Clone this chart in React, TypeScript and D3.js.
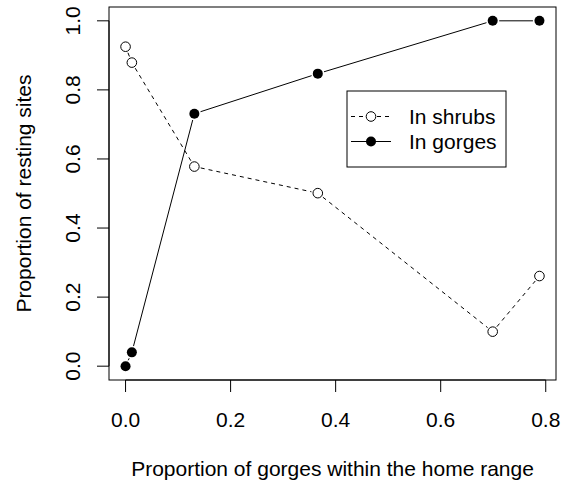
import React from "react";
import * as d3 from "d3";

const xVals = [0, 0.012, 0.131, 0.366, 0.699, 0.788];
const shrubs = [0.925, 0.879, 0.578, 0.501, 0.1, 0.261];
const gorges = [0, 0.04, 0.731, 0.847, 1, 1];
const xTicks = [0, 0.2, 0.4, 0.6, 0.8];
const yTicks = [0, 0.2, 0.4, 0.6, 0.8, 1.0];
const legendLabels = ["In shrubs", "In gorges"];

const W = 561, H = 483;
const L = 109, R = 556, T = 7, B = 380;
const FONT = "Liberation Sans, Arial, Helvetica, sans-serif";
const FS = 21;

function gapSegments(pts: [number, number][], gap: number) {
  const segs: [number, number, number, number][] = [];
  for (let i = 0; i < pts.length - 1; i++) {
    const [x1, y1] = pts[i];
    const [x2, y2] = pts[i + 1];
    const dx = x2 - x1, dy = y2 - y1;
    const len = Math.hypot(dx, dy);
    if (len <= 2 * gap) continue;
    const ux = dx / len, uy = dy / len;
    segs.push([x1 + ux * gap, y1 + uy * gap, x2 - ux * gap, y2 - uy * gap]);
  }
  return segs;
}

export default function App() {
  const xmin = 0, xmax = d3.max(xVals) as number;
  const xpad = (xmax - xmin) * 0.04;
  const x = d3.scaleLinear().domain([xmin - xpad, xmax + xpad]).range([L, R]);
  const y = d3.scaleLinear().domain([-0.04, 1.04]).range([B, T]);

  const sPts = xVals.map((v, i) => [x(v), y(shrubs[i])] as [number, number]);
  const gPts = xVals.map((v, i) => [x(v), y(gorges[i])] as [number, number]);
  const sSegs = gapSegments(sPts, 6.5);
  const gSegs = gapSegments(gPts, 6.5);

  const lgL = 347, lgT = 91, lgR = 506, lgB = 167;
  const rowY = [116.5, 141.5];

  return (
    <svg width={W} height={H} style={{ position: "absolute", left: 0, top: 0, background: "#fff" }} fontFamily={FONT}>
      <rect x={0} y={0} width={W} height={H} fill="#fff" />
      {/* box */}
      <rect x={L} y={T} width={R - L} height={B - T} fill="none" stroke="#000" strokeWidth={1} />
      {/* x axis */}
      <line x1={x(xTicks[0])} x2={x(xTicks[xTicks.length - 1])} y1={B} y2={B} stroke="#000" />
      {xTicks.map((t) => (
        <g key={"xt" + t}>
          <line x1={x(t)} x2={x(t)} y1={B} y2={B + 12} stroke="#000" />
          <text x={x(t)} y={426.5} textAnchor="middle" fontSize={FS}>{t.toFixed(1)}</text>
        </g>
      ))}
      {/* y axis */}
      <line x1={L} x2={L} y1={y(yTicks[0])} y2={y(yTicks[yTicks.length - 1])} stroke="#000" />
      {yTicks.map((t) => (
        <g key={"yt" + t}>
          <line x1={L - 12} x2={L} y1={y(t)} y2={y(t)} stroke="#000" />
          <text transform={`translate(${80},${y(t)}) rotate(-90)`} textAnchor="middle" fontSize={FS}>{t.toFixed(1)}</text>
        </g>
      ))}
      <text x={(L + R) / 2} y={476} textAnchor="middle" fontSize={FS}>Proportion of gorges within the home range</text>
      <text transform={`translate(${30.5},${(T + B) / 2}) rotate(-90)`} textAnchor="middle" fontSize={FS}>Proportion of resting sites</text>

      {/* shrubs */}
      {sSegs.map((s, i) => (
        <line key={"ss" + i} x1={s[0]} y1={s[1]} x2={s[2]} y2={s[3]} stroke="#000" strokeDasharray="4,4" />
      ))}
      {sPts.map((p, i) => (
        <circle key={"sp" + i} cx={p[0]} cy={p[1]} r={4.8} fill="none" stroke="#000" />
      ))}
      {/* gorges */}
      {gSegs.map((s, i) => (
        <line key={"gs" + i} x1={s[0]} y1={s[1]} x2={s[2]} y2={s[3]} stroke="#000" />
      ))}
      {gPts.map((p, i) => (
        <circle key={"gp" + i} cx={p[0]} cy={p[1]} r={5} fill="#000" />
      ))}

      {/* legend */}
      <rect x={lgL} y={lgT} width={lgR - lgL} height={lgB - lgT} fill="#fff" stroke="#000" />
      <line x1={351} x2={365} y1={rowY[0]} y2={rowY[0]} stroke="#000" strokeDasharray="4,4" />
      <line x1={377} x2={391} y1={rowY[0]} y2={rowY[0]} stroke="#000" strokeDasharray="4,4" />
      <circle cx={371} cy={rowY[0]} r={4.8} fill="none" stroke="#000" />
      <line x1={351} x2={391} y1={rowY[1]} y2={rowY[1]} stroke="#000" />
      <circle cx={371} cy={rowY[1]} r={5} fill="#000" />
      {legendLabels.map((lab, i) => (
        <text key={lab} x={409} y={rowY[i] + 7} fontSize={FS}>{lab}</text>
      ))}
    </svg>
  );
}
